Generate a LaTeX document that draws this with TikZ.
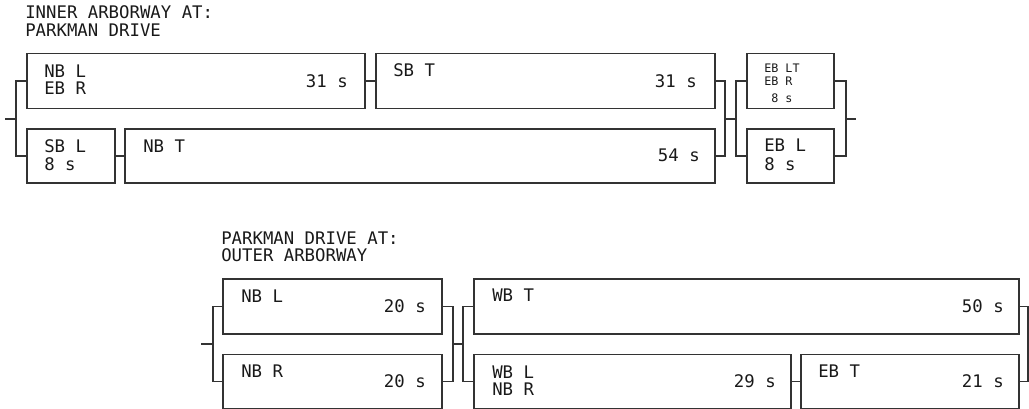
\documentclass[tikz,border=0pt]{standalone}
\usepackage{fontspec}
\newfontfamily\cadfont{DejaVu Sans Mono}
\usetikzlibrary{fit}

\begin{document}
\begin{tikzpicture}[x=0.75pt,y=0.75pt,yscale=-1,xscale=1,
  box/.style={draw={rgb, 255:red, 51; green, 51; blue, 51 },line width=1.1pt,inner sep=0pt},
  wire/.style={draw={rgb, 255:red, 51; green, 51; blue, 51 },line width=1.1pt},
  lbl/.style={font=\cadfont\fontsize{13}{15}\selectfont,inner sep=0pt,text={rgb, 255:red, 25; green, 25; blue, 25 }},
  lblsm/.style={lbl,font=\cadfont\fontsize{8.8}{10}\selectfont}]
\useasboundingbox (0,0) rectangle (1029,409);

%Shape: Rectangle [phases, inner arborway]
\node[box, fit={(27,53.5) (365,108.5)}] (nblebr) {};
\node[box, fit={(376,53.5) (715,108.5)}] (sbt) {};
\node[box, fit={(27,129) (115,183)}] (sbl) {};
\node[box, fit={(125,129) (715,183)}] (nbt) {};
\node[box, fit={(747,53.5) (834,108.5)}] (ebltebr) {};
\node[box, fit={(747,129) (834,183)}] (ebl) {};

%Straight Lines [rings, inner arborway]
\coordinate (in1) at (5,119);
\coordinate (ja) at (16,119);
\coordinate (jb) at (725,119);
\coordinate (jc) at (736,119);
\coordinate (jd) at (846,119);
\coordinate (out1) at (856,119);
\draw[wire] (in1) -- (ja);
\draw[wire] (nblebr.west) -| (ja) |- (sbl.west);
\draw[wire] (nblebr.east) -- (sbt.west);
\draw[wire] (sbl.east) -- (nbt.west);
\draw[wire] (sbt.east) -| (jb) |- (nbt.east);
\draw[wire] (jb) -- (jc);
\draw[wire] (ebltebr.west) -| (jc) |- (ebl.west);
\draw[wire] (ebltebr.east) -| (jd) |- (ebl.east);
\draw[wire] (jd) -- (out1);

%Shape: Rectangle [phases, parkman drive]
\node[box, fit={(223,279) (442,334)}] (nbl) {};
\node[box, fit={(223,354.5) (442,408.5)}] (nbr) {};
\node[box, fit={(474,279) (1019,334)}] (wbt) {};
\node[box, fit={(474,354.5) (791,408.5)}] (wblnbr) {};
\node[box, fit={(801,354.5) (1019,408.5)}] (ebt) {};

%Straight Lines [rings, parkman drive]
\coordinate (in2) at (201,344);
\coordinate (je) at (213,344);
\coordinate (jf) at (453,344);
\coordinate (jg) at (463,344);
\coordinate (jh) at (1028,344);
\draw[wire] (in2) -- (je);
\draw[wire] (nbl.west) -| (je) |- (nbr.west);
\draw[wire] (nbl.east) -| (jf) |- (nbr.east);
\draw[wire] (jf) -- (jg);
\draw[wire] (wbt.west) -| (jg) |- (wblnbr.west);
\draw[wire] (wblnbr.east) -- (ebt.west);
\draw[wire] (wbt.east) -| (jh) |- (ebt.east);

% Text Node
\node[lbl, anchor=base west] (ttla) at (25,19) {INNER ARBORWAY AT:};
\node[lbl, anchor=base west] (ttlb) at (25,37) {PARKMAN DRIVE};
% Text Node
\node[lbl, anchor=base west] (nblebr-a) at (44,78) {NB L};
\node[lbl, anchor=base west] (nblebr-b) at (44,95) {EB R};
\node[lbl, anchor=base east] (nblebr-s) at (348,88) {31 s};
% Text Node
\node[lbl, anchor=base west] (sbt-a) at (393,77) {SB T};
\node[lbl, anchor=base east] (sbt-s) at (697,88) {31 s};
% Text Node
\node[lbl, anchor=base west] (sbl-a) at (44,153) {SB L};
\node[lbl, anchor=base west] (sbl-s) at (44,171) {8 s};
% Text Node
\node[lbl, anchor=base west] (nbt-a) at (143,153) {NB T};
\node[lbl, anchor=base east] (nbt-s) at (700,162) {54 s};
% Text Node
\node[lblsm, anchor=base west] (ebltebr-a) at (764,73) {EB LT};
\node[lblsm, anchor=base west] (ebltebr-b) at (764,86) {EB R};
\node[lblsm, anchor=base west] (ebltebr-s) at (771,103) {8 s};
% Text Node
\node[lbl, anchor=base west] (ebl-a) at (764,152) {EB L};
\node[lbl, anchor=base west] (ebl-s) at (764,171) {8 s};

% Text Node
\node[lbl, anchor=base west] (ttlc) at (221,245) {PARKMAN DRIVE AT:};
\node[lbl, anchor=base west] (ttld) at (221,262) {OUTER ARBORWAY};
% Text Node
\node[lbl, anchor=base west] (nbl-a) at (241,303) {NB L};
\node[lbl, anchor=base east] (nbl-s) at (426,313) {20 s};
% Text Node
\node[lbl, anchor=base west] (nbr-a) at (241,378) {NB R};
\node[lbl, anchor=base east] (nbr-s) at (426,388) {20 s};
% Text Node
\node[lbl, anchor=base west] (wbt-a) at (492,302) {WB T};
\node[lbl, anchor=base east] (wbt-s) at (1004,313) {50 s};
% Text Node
\node[lbl, anchor=base west] (wblnbr-a) at (492,379) {WB L};
\node[lbl, anchor=base west] (wblnbr-b) at (492,396) {NB R};
\node[lbl, anchor=base east] (wblnbr-s) at (776,388) {29 s};
% Text Node
\node[lbl, anchor=base west] (ebt-a) at (818,378) {EB T};
\node[lbl, anchor=base east] (ebt-s) at (1004,388) {21 s};

\end{tikzpicture}
\end{document}
